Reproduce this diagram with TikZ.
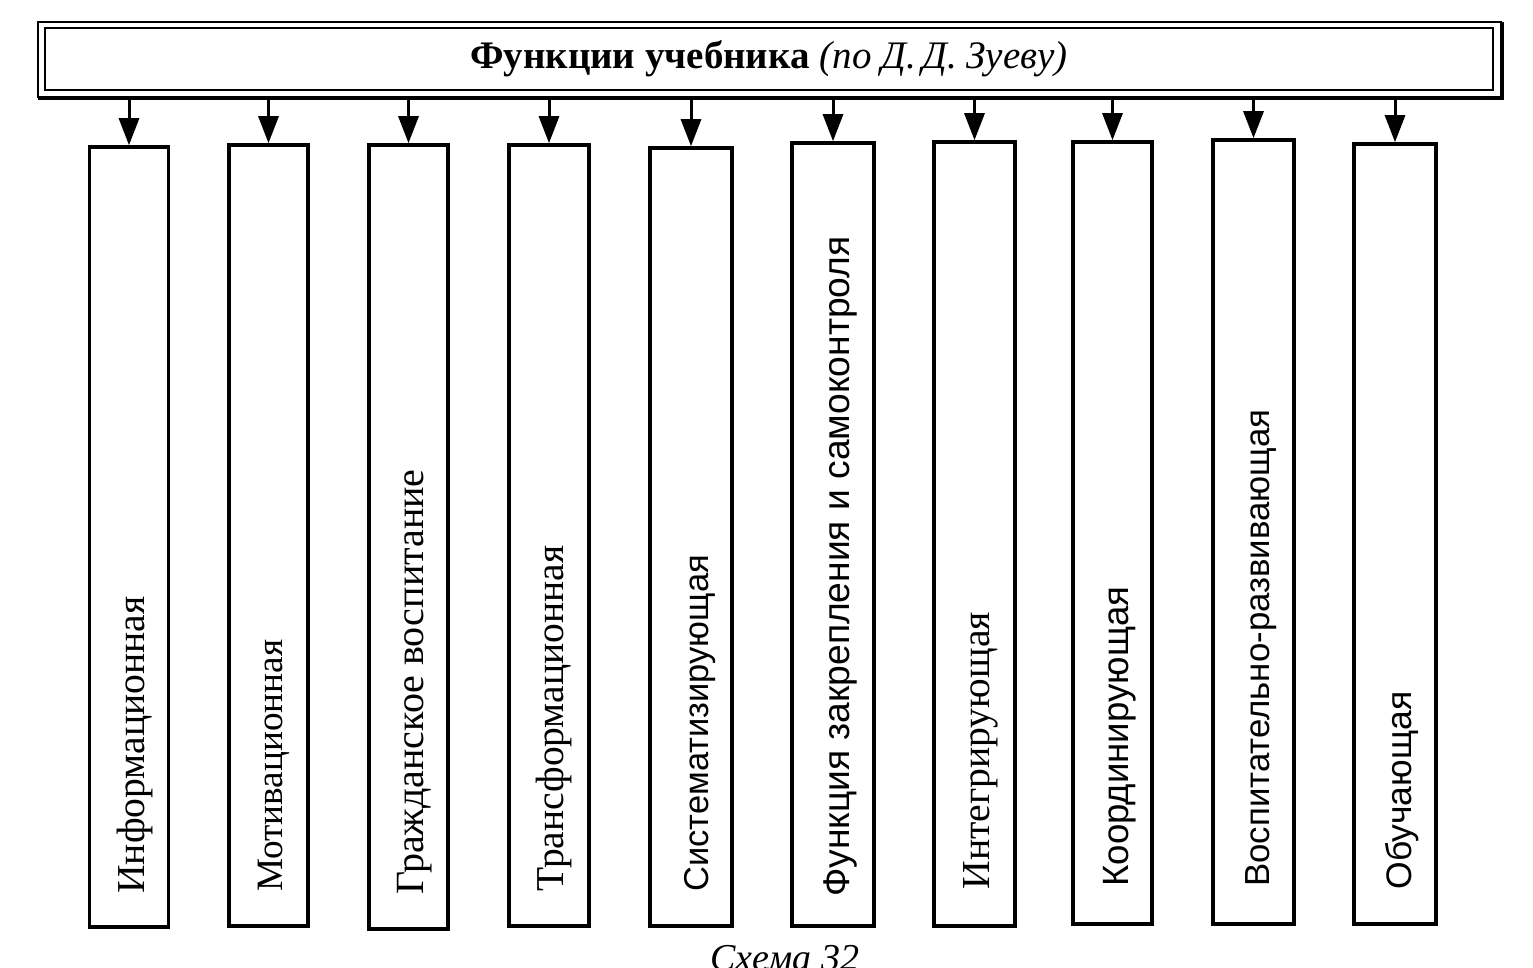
\documentclass[tikz,border=0pt]{standalone}
\usepackage{fontspec}
\setmainfont{Liberation Serif}
\newfontfamily\arialf{Liberation Sans}
\usetikzlibrary{arrows.meta,calc}
\begin{document}
\begin{tikzpicture}[x=1pt,y=-1pt,
  titlebox/.style={draw,line width=2pt,minimum width=1448pt,minimum height=62pt,inner sep=0pt,
    font=\fontsize{39}{42}\selectfont},
  fbox/.style={draw,line width=3.6pt,minimum height=781pt,inner sep=0pt},
  labserif/.style={rotate=90,anchor=base west,inner sep=0pt,font=\fontsize{#1}{42}\selectfont},
  labsans/.style={rotate=90,anchor=base west,inner sep=0pt,font=\arialf\fontsize{#1}{38}\selectfont},
  arr/.style={line width=3pt,-{Triangle[length=27pt,width=20pt]}},
  captext/.style={font=\fontsize{38}{40}\selectfont\itshape,inner sep=0pt}]
\useasboundingbox (0,0) rectangle (1533,968);
% title
\node[titlebox] (title) at (769,59) {\raisebox{-4pt}{\textbf{Функции учебника} \textit{(по Д.\,Д. Зуеву)}}};
\coordinate (onw) at (38,22);
\coordinate (ose) at (1502,98);
\draw[line width=2.5pt] (onw |- ose) -- (onw) -- (onw -| ose);
\draw[line width=4.5pt] (onw -| ose) -- (ose) -- (onw |- ose);
\coordinate (tb) at (0,99);
% boxes
\node[fbox,minimum width=79pt,minimum height=780pt] (b1) at (129,537) {};
\node[fbox,minimum width=79pt,minimum height=781pt] (b2) at (268.5,535.5) {};
\node[fbox,minimum width=79pt,minimum height=784pt] (b3) at (408.5,537) {};
\node[fbox,minimum width=80pt,minimum height=781pt] (b4) at (549,535.5) {};
\node[fbox,minimum width=82pt,minimum height=778pt] (b5) at (691,537) {};
\node[fbox,minimum width=82pt,minimum height=783pt] (b6) at (833,534.5) {};
\node[fbox,minimum width=81pt,minimum height=784pt] (b7) at (974.5,534) {};
\node[fbox,minimum width=79pt,minimum height=782pt] (b8) at (1112.5,533) {};
\node[fbox,minimum width=81pt,minimum height=784pt] (b9) at (1253.5,532) {};
\node[fbox,minimum width=82pt,minimum height=780pt] (b10) at (1395,534) {};
% labels
\node[labserif=39.6] (l1) at ($(b1.south)+(15,-35)$) {Информационная};
\node[labserif=37.2] (l2) at ($(b2.south)+(14,-36)$) {Мотивационная};
\node[labserif=40] (l3) at ($(b3.south)+(15,-36)$) {Гражданское воспитание};
\node[labserif=39.5] (l4) at ($(b4.south)+(14,-36)$) {Трансформационная};
\node[labsans=34.5] (l5) at ($(b5.south)+(17,-36)$) {Систематизирующая};
\node[labsans=37.2] (l6) at ($(b6.south)+(16,-31)$) {Функция закрепления и самоконтроля};
\node[labserif=39.7] (l7) at ($(b7.south)+(15,-38)$) {Интегрирующая};
\node[labsans=36.6] (l8) at ($(b8.south)+(16,-39)$) {Координирующая};
\node[labsans=34.8] (l9) at ($(b9.south)+(16,-39)$) {Воспитательно-развивающая};
\node[labsans=35.5] (l10) at ($(b10.south)+(16,-36)$) {Обучающая};
% arrows
\foreach \b in {b1,b2,b3,b4,b5,b6,b7,b8,b9,b10}
  \draw[arr] (tb -| \b.north) -- (\b.north);
% caption
\node[captext,anchor=north] (caption) at (785,945) {Схема 32};
\end{tikzpicture}
\end{document}
